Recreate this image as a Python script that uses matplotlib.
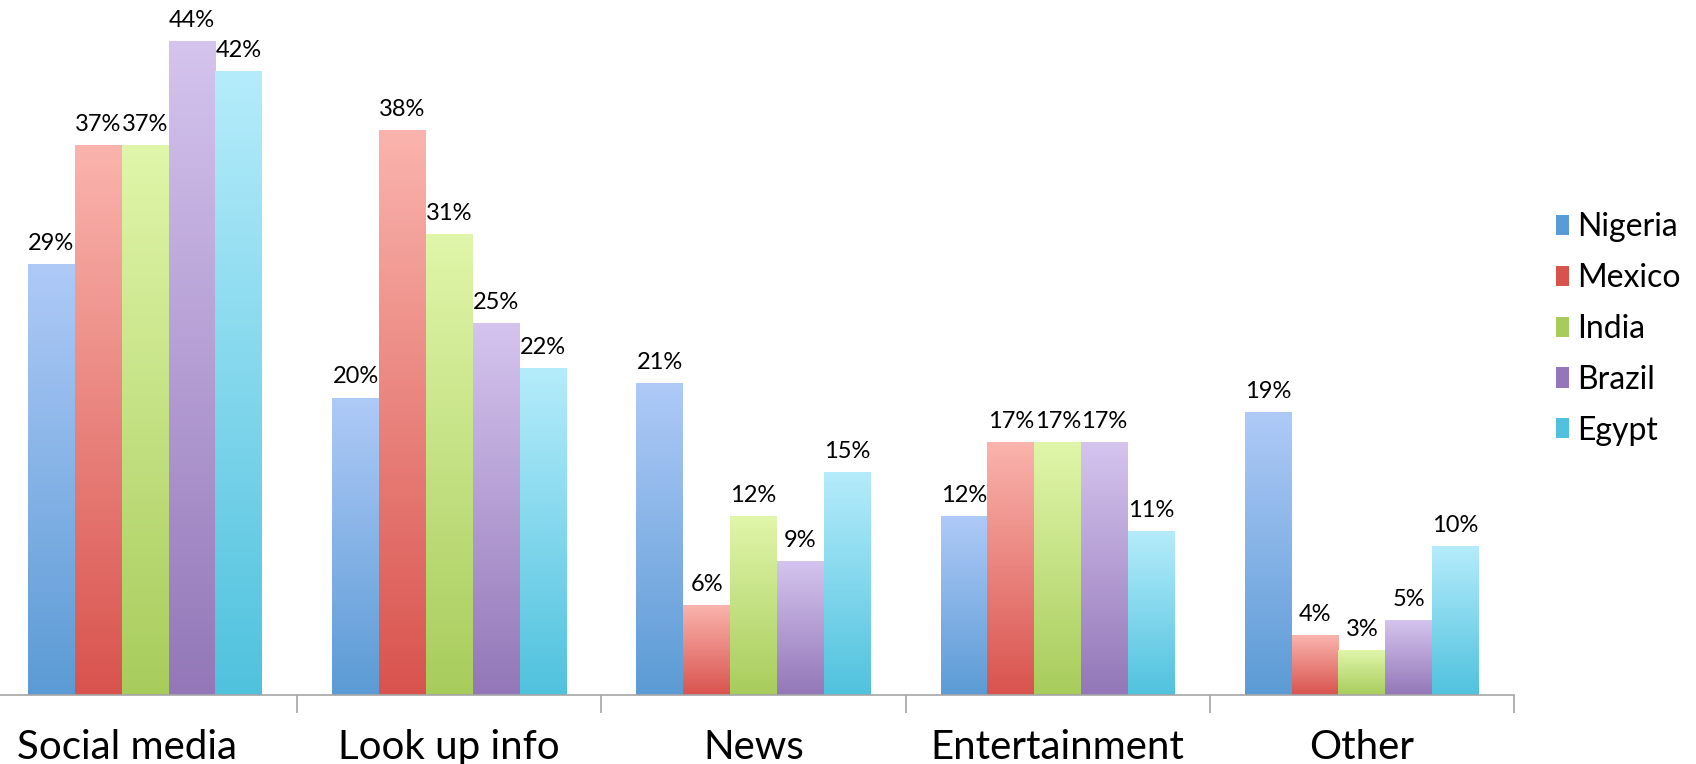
import matplotlib
matplotlib.use("Agg")
import matplotlib.pyplot as plt
import numpy as np
from matplotlib.colors import LinearSegmentedColormap
from matplotlib.patches import Patch
from matplotlib.transforms import ScaledTranslation

# survey data: share of respondents by main use
categories = ["Social media", "Look up info", "News", "Entertainment", "Other"]
countries = ["Nigeria", "Mexico", "India", "Brazil", "Egypt"]
nigeria = [29, 20, 21, 12, 19]
mexico = [37, 38, 6, 17, 4]
india = [37, 31, 12, 17, 3]
brazil = [44, 25, 9, 17, 5]
egypt = [42, 22, 15, 11, 10]

# (top, bottom) gradient colours per country
shades = [("#afcaf7", "#5b9bd5"),
          ("#fab4ad", "#d9534e"),
          ("#e0f6aa", "#a8cc5c"),
          ("#d5c4ee", "#9377b8"),
          ("#b5ecfb", "#50c2de")]

plt.rcParams['font.family'] = ['Lato', 'DejaVu Sans']

fig = plt.figure(figsize=(16.96, 7.64), dpi=100)
ax = fig.add_axes([-7 / 1696, 69.3 / 764, 1521 / 1696, 683 / 764])

x = np.arange(len(categories))
bw = 0.154
series = [nigeria, mexico, india, brazil, egypt]
grad = np.linspace(0, 1, 256).reshape(-1, 1)

for i, vals in enumerate(series):
    offs = (i - 2) * bw
    bars = ax.bar(x + offs, vals, bw, color="none", edgecolor="none")
    cmap = LinearSegmentedColormap.from_list("g%d" % i, [shades[i][1], shades[i][0]])
    for b, v in zip(bars, vals):
        x0 = b.get_x()
        ax.imshow(grad, cmap=cmap, origin="lower", aspect="auto",
                  extent=(x0, x0 + b.get_width(), 0, b.get_height()),
                  interpolation="bicubic", zorder=2)
        ax.text(x0 + b.get_width() / 2, v + 0.7, "%d%%" % v,
                ha="center", va="bottom", fontsize=17, color="black")

ax.set_xlim(-0.5, len(categories) - 0.5)
ax.set_ylim(0, 46)

for s in ["top", "right", "left"]:
    ax.spines[s].set_visible(False)
ax.spines["bottom"].set_color("#a6a6a6")
ax.spines["bottom"].set_linewidth(1.2)
ax.set_yticks([])

# boundary ticks between categories, labels centred underneath
ax.set_xticks(np.arange(len(categories) + 1) - 0.5)
ax.set_xticklabels([])
ax.tick_params(axis="x", which="major", length=13, width=1.2, color="#a6a6a6")
ax.set_xticks(x, minor=True)
ax.set_xticklabels(categories, minor=True, fontsize=29)
ax.tick_params(axis="x", which="minor", length=0, pad=25)

# first label is nudged left so it stays on the canvas
first = ax.get_xticklabels(minor=True)[0]
first.set_transform(first.get_transform() + ScaledTranslation(-0.18, 0, fig.dpi_scale_trans))

handles = [Patch(facecolor=shades[i][1], edgecolor="none") for i in range(len(countries))]
fig.legend(handles, countries, loc="center left", bbox_to_anchor=(1556 / 1696, 1 - 329 / 764),
           frameon=False, fontsize=23, handlelength=0.42, handleheight=0.6,
           handletextpad=0.25, labelspacing=0.65, borderaxespad=0, borderpad=0)

fig.savefig("out.png", dpi=100)
